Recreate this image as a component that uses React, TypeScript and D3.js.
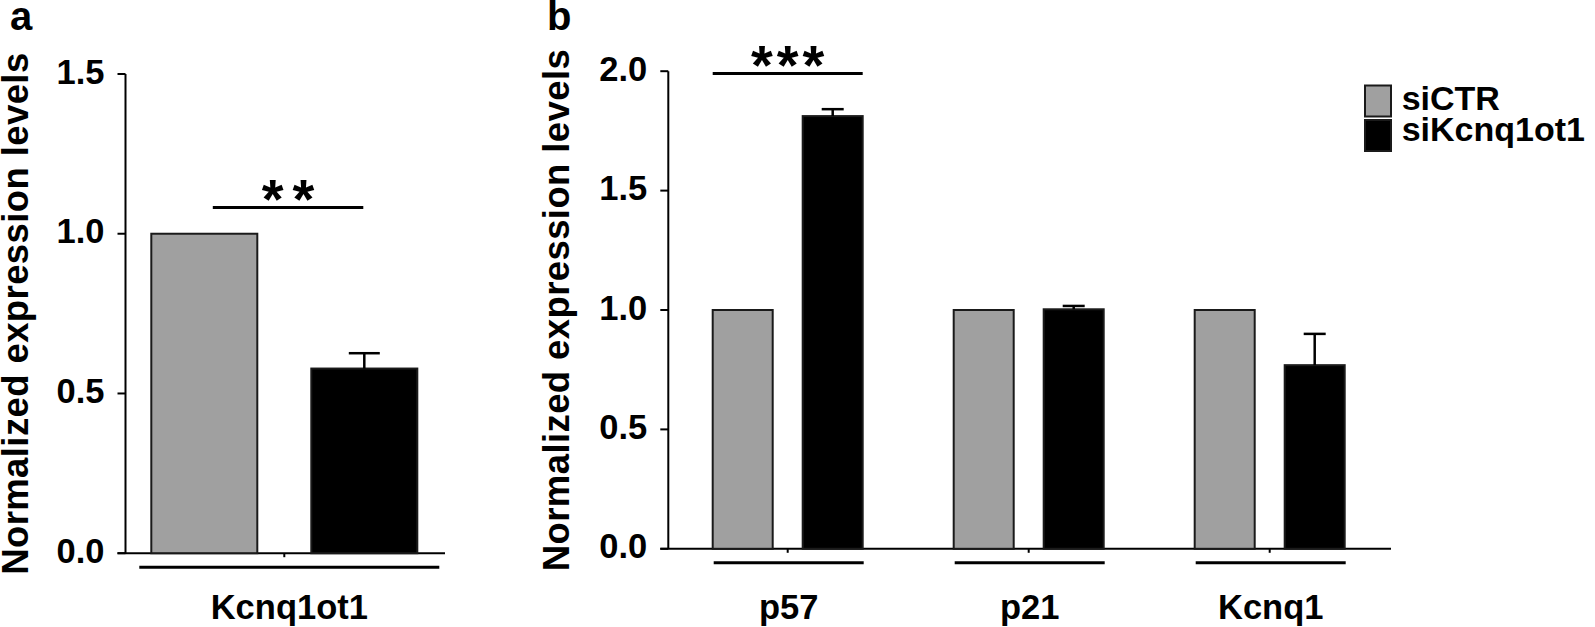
import React from "react";
import * as d3 from "d3";

// ---------- data ----------
const seriesNames = ["siCTR", "siKcnq1ot1"];
const seriesColors = ["#a0a0a0", "#000000"];

const catsA = ["Kcnq1ot1"];
const ctrA = [1.0];
const kdA = [0.578];
const errA = [0.048];
const ticksA = [0, 0.5, 1.0, 1.5];

const catsB = ["p57", "p21", "Kcnq1"];
const ctrB = [1.0, 1.0, 1.0];
const kdB = [1.812, 1.003, 0.769];
const errB = [0.029, 0.014, 0.131];
const ticksB = [0, 0.5, 1.0, 1.5, 2.0];

const yLabel = "Normalized expression levels";

const FONT = "'Liberation Sans', Arial, Helvetica, sans-serif";

type PanelProps = {
  letter: string;
  letterX: number;
  cats: string[];
  ctr: number[];
  kd: number[];
  err: number[];
  ticks: number[];
  yMax: number;
  yTop: number;
  yBottom: number;
  axisX: number;
  axisRight: number;
  catX: [number, number];
  groupHalf: number;
  padInner: number;
  capW: number;
  underHalf: number;
  underShift: number;
  labelX: number;
  sig: { cat: number; text: string; ls: number; left: number; right: number; yv: number };
};

function Panel(p: PanelProps) {
  const y = d3.scaleLinear().domain([0, p.yMax]).range([p.yBottom, p.yTop]);
  const x =
    p.cats.length > 1
      ? d3.scalePoint<string>().domain(p.cats).range(p.catX)
      : (c: string) => p.catX[0];
  const xs = d3
    .scaleBand<string>()
    .domain(seriesNames)
    .range([-p.groupHalf, p.groupHalf])
    .paddingInner(p.padInner)
    .paddingOuter(0);
  const bw = xs.bandwidth();
  const tickLen = 8;
  const fmt = d3.format(".1f");
  const values = [p.ctr, p.kd];

  const sigCat = p.cats[p.sig.cat];
  const sx0 = (x(sigCat) as number) + p.sig.left;
  const sx1 = (x(sigCat) as number) + p.sig.right;
  const sy = y(p.sig.yv);

  return (
    <g fontFamily={FONT} fontWeight="bold">
      <text x={p.letterX} y={30} fontSize={40}>
        {p.letter}
      </text>
      {/* y label */}
      <text
        transform={`translate(${p.labelX},${(p.yTop + p.yBottom) / 2}) rotate(-90)`}
        textAnchor="middle"
        fontSize={36.5}
        letterSpacing={0.4}
      >
        {yLabel}
      </text>
      {/* y axis */}
      <line x1={p.axisX} x2={p.axisX} y1={p.yTop} y2={p.yBottom} stroke="#000" strokeWidth={2} />
      {p.ticks.map((t) => (
        <g key={t}>
          <line x1={p.axisX - tickLen} x2={p.axisX} y1={y(t)} y2={y(t)} stroke="#000" strokeWidth={2} />
          <text x={p.axisX - tickLen - 13} y={y(t) + 9.5} textAnchor="end" fontSize={34.5}>
            {fmt(t)}
          </text>
        </g>
      ))}
      {/* x baseline */}
      <line x1={p.axisX - tickLen} x2={p.axisRight} y1={y(0)} y2={y(0)} stroke="#000" strokeWidth={2} />
      {/* bars */}
      {p.cats.map((c, i) => {
        const cx = x(c) as number;
        return (
          <g key={c}>
            {seriesNames.map((s, k) => {
              const v = values[k][i];
              const bx = cx + (xs(s) as number);
              return (
                <rect
                  key={s}
                  x={bx}
                  y={y(v)}
                  width={bw}
                  height={y(0) - y(v)}
                  fill={seriesColors[k]}
                  stroke="#1a1a1a"
                  strokeWidth={2}
                />
              );
            })}
            {/* error bar on knockdown */}
            {(() => {
              const bc = cx + (xs(seriesNames[1]) as number) + bw / 2;
              const top = y(p.kd[i] + p.err[i]);
              return (
                <g stroke="#000" strokeWidth={2.5}>
                  <line x1={bc} x2={bc} y1={y(p.kd[i])} y2={top} />
                  <line x1={bc - p.capW / 2} x2={bc + p.capW / 2} y1={top} y2={top} />
                </g>
              );
            })()}
            {/* category tick */}
            <line x1={cx} x2={cx} y1={y(0)} y2={y(0) + 4} stroke="#000" strokeWidth={2} />
            {/* underline */}
            <line
              x1={cx + p.underShift - p.underHalf}
              x2={cx + p.underShift + p.underHalf}
              y1={y(0) + 14}
              y2={y(0) + 14}
              stroke="#000"
              strokeWidth={3}
            />
            <text x={cx + p.underShift} y={619} textAnchor="middle" fontSize={34.5}>
              {c}
            </text>
          </g>
        );
      })}
      {/* significance */}
      <line x1={sx0} x2={sx1} y1={sy} y2={sy} stroke="#000" strokeWidth={3} />
      <text
        x={(sx0 + sx1) / 2 + p.sig.ls / 2}
        y={sy + 10}
        textAnchor="middle"
        fontSize={56}
        letterSpacing={p.sig.ls}
      >
        {p.sig.text}
      </text>
    </g>
  );
}

export default function App() {
  return (
    <svg
      width={1595}
      height={627}
      viewBox="0 0 1595 627"
      style={{ position: "absolute", left: 0, top: 0, background: "#fff" }}
    >
      <rect width={1595} height={627} fill="#fff" />
      <Panel
        letter="a"
        letterX={10}
        cats={catsA}
        ctr={ctrA}
        kd={kdA}
        err={errA}
        ticks={ticksA}
        yMax={1.5}
        yTop={74}
        yBottom={553.2}
        axisX={125.5}
        axisRight={445}
        catX={[284.3, 284.3]}
        groupHalf={133}
        padInner={0.3375}
        capW={31}
        underHalf={150}
        underShift={5}
        labelX={28}
        sig={{ cat: 0, text: "**", ls: 9, left: -71.5, right: 79, yv: 1.082 }}
      />
      <Panel
        letter="b"
        letterX={547}
        cats={catsB}
        ctr={ctrB}
        kd={kdB}
        err={errB}
        ticks={ticksB}
        yMax={2.0}
        yTop={71.2}
        yBottom={548.8}
        axisX={668.3}
        axisRight={1391}
        catX={[787.7, 1269.7]}
        groupHalf={75}
        padInner={0.3333}
        capW={22}
        underHalf={75}
        underShift={1}
        labelX={569}
        sig={{ cat: 0, text: "***", ls: 4, left: -75, right: 75, yv: 1.99 }}
      />
      {/* legend */}
      <g fontFamily={FONT} fontWeight="bold" fontSize={34}>
        {seriesNames.map((s, k) => (
          <g key={s}>
            <rect
              x={1365}
              y={85.5 + k * 34.5}
              width={26}
              height={31}
              fill={seriesColors[k]}
              stroke="#1a1a1a"
              strokeWidth={2}
            />
            <text x={1401.7} y={109.5 + k * 31.5}>
              {s}
            </text>
          </g>
        ))}
      </g>
    </svg>
  );
}
